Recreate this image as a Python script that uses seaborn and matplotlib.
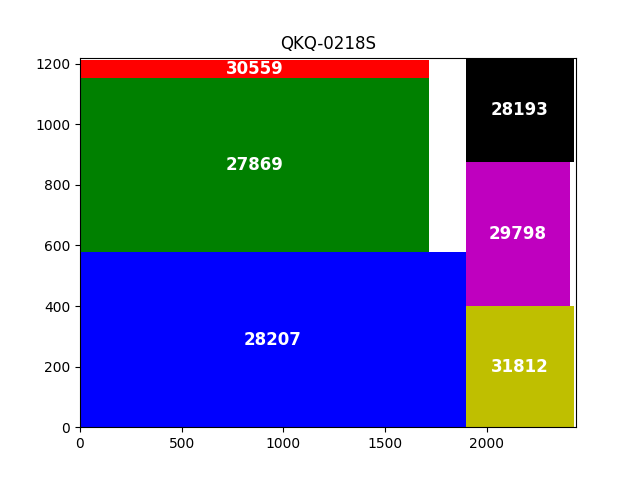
import matplotlib
matplotlib.use("Agg")
import matplotlib.pyplot as plt
import seaborn as sns

# Packed pieces: left corner, size, label and colour
labels = ["28207", "27869", "30559", "31812", "29798", "28193"]
x_left = [0, 0, 0, 1899, 1899, 1899]
y_bottom = [0, 578, 1154, 0, 400, 876]
widths = [1899, 1717, 1717, 531, 511, 531]
heights = [578, 576, 59, 400, 476, 344]
colors = ["b", "g", "r", "y", "m", "k"]

sns.reset_orig()
fig, ax = plt.subplots(figsize=(6.4, 4.8), dpi=100)

ax.bar(x_left, heights, width=widths, bottom=y_bottom, align="edge",
       color=colors, linewidth=0)

# Label each piece at its centre
for lab, x, y, w, h in zip(labels, x_left, y_bottom, widths, heights):
    ax.text(x + w / 2, y + h / 2, lab, ha="center", va="center",
            color="white", fontsize=12, fontweight="bold")

ax.set_xlim(0, 2440)
ax.set_ylim(0, 1220)
ax.set_title("QKQ-0218S")

fig.savefig("out.png")
